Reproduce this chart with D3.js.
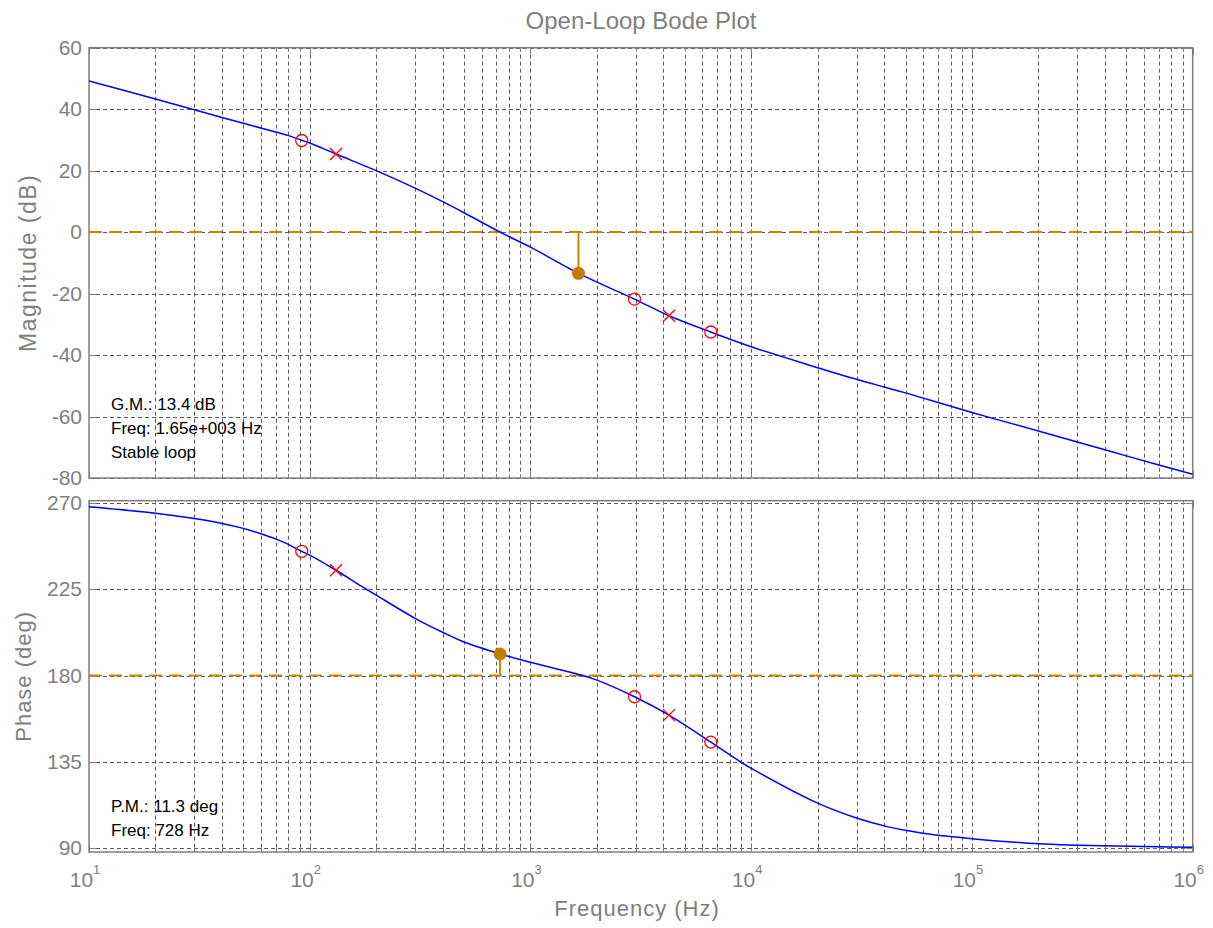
<!DOCTYPE html>
<html><head><meta charset="utf-8">
<script src="https://cdn.jsdelivr.net/npm/d3@7"></script>
<style>body{margin:0;background:#fff} svg{display:block}</style>
</head><body>
<svg id="c" width="1213" height="928"></svg>
<script>
// ---- data ----
const magFreq  = [10, 20, 30, 40, 50, 60, 70, 80, 92, 100, 131.5, 200, 300, 400, 500, 728, 1000, 1650, 2960, 4240, 6560, 10000, 20000, 30000, 40000, 50000, 100000, 200000, 300000, 400000, 500000, 1000000];
const magDb    = [49.2, 43.3, 39.8, 37.3, 35.4, 33.9, 32.6, 31.4, 29.9, 29.0, 25.4, 20.0, 14.3, 9.9, 6.3, 0.0, -4.9, -13.4, -21.8, -27.2, -32.5, -37.3, -44.1, -47.9, -50.4, -52.3, -58.7, -64.7, -68.3, -70.8, -72.8, -78.8];
const phaseFreq = [10, 20, 30, 40, 50, 60, 70, 80, 92, 100, 131.5, 172, 200, 300, 400, 500, 728, 1000, 1410, 1730, 2000, 2960, 4240, 6560, 8900, 10000, 20000, 30000, 40000, 50000, 60000, 80000, 100000, 200000, 300000, 700000, 1000000];
const phaseDeg  = [268.2, 264.8, 262.0, 259.5, 256.9, 254.1, 251.4, 248.5, 244.9, 242.9, 235.0, 226.6, 222.0, 209.9, 202.6, 197.5, 191.3, 186.9, 182.6, 180.0, 177.6, 168.9, 159.3, 145.2, 135.0, 131.5, 113.3, 105.5, 101.4, 99.1, 97.6, 95.8, 94.7, 92.0, 91.3, 90.5, 90.3];
const zeroFreq  = [92, 2960, 6560];
const zeroMag   = [29.8, -21.8, -32.5];
const zeroPhase = [244.9, 168.9, 145.2];
const poleFreq  = [131.5, 4240];
const poleMag   = [25.4, -27.2];
const polePhase = [235.0, 159.3];
const gmFreq = 1650, gmDb = -13.4;
const pmFreq = 728, pmDeg = 191.3;
const magTicks   = [-80, -60, -40, -20, 0, 20, 40, 60];
const phaseTicks = [90, 135, 180, 225, 270];
const decadeTicks = [10, 100, 1000, 10000, 100000, 1000000];
const decadeExp   = ["1", "2", "3", "4", "5", "6"];
const minorMult   = [2, 3, 4, 5, 6, 7, 8, 9];
const gmText = ["G.M.: 13.4 dB", "Freq: 1.65e+003 Hz", "Stable loop"];
const pmText = ["P.M.: 11.3 deg", "Freq: 728 Hz"];
const titleText = "Open-Loop Bode Plot";

// ---- layout ----
const L = 89, R = 1192.7;
const top1 = 47.7, bot1 = 478;
const top2 = 500.7, bot2 = 852;
const FONT = "'Liberation Sans', Arial, sans-serif";
const GRAY = "#7f7f7f";
const ORANGE = "#cc8500";

const svg = d3.select("#c");
const x = d3.scaleLog().domain([10, 1e6]).range([L, R]);
const yMag = d3.scaleLinear().domain([-80, 60]).range([bot1, top1]);
const yPh = d3.scaleLinear().domain([90, 270]).range([847.7, 503.3]);

const minorTicks = [];
decadeTicks.slice(0, -1).forEach(d => minorMult.forEach(m => minorTicks.push(d * m)));

function panel(id, y, yTicks, yt, yb) {
  const g = svg.append("g");
  g.append("clipPath").attr("id", id).append("rect")
    .attr("x", L).attr("y", yt).attr("width", R - L).attr("height", yb - yt);
  const grid = g.append("g").attr("stroke", "#5a5a5a").attr("stroke-width", 1)
    .attr("stroke-dasharray", "4,3").attr("fill", "none");
  decadeTicks.concat(minorTicks).forEach(f => {
    const xx = Math.round(x(f)) + 0.5;
    if (xx > L + 2 && xx < R - 2)
      grid.append("line").attr("x1", xx).attr("x2", xx).attr("y1", yt).attr("y2", yb);
  });
  yTicks.forEach(v => {
    const yy = Math.round(y(v)) + 0.5;
    grid.append("line").attr("x1", L).attr("x2", R).attr("y1", yy).attr("y2", yy);
  });
  const tk = g.append("g").attr("stroke", GRAY).attr("stroke-width", 1);
  decadeTicks.forEach(f => {
    const xx = Math.round(x(f)) + 0.5;
    tk.append("line").attr("x1", xx).attr("x2", xx).attr("y1", yb).attr("y2", yb - 7);
    tk.append("line").attr("x1", xx).attr("x2", xx).attr("y1", yt).attr("y2", yt + 7);
  });
  minorTicks.forEach(f => {
    const xx = Math.round(x(f)) + 0.5;
    tk.append("line").attr("x1", xx).attr("x2", xx).attr("y1", yb).attr("y2", yb - 4);
    tk.append("line").attr("x1", xx).attr("x2", xx).attr("y1", yt).attr("y2", yt + 4);
  });
  yTicks.forEach(v => {
    const yy = Math.round(y(v)) + 0.5;
    tk.append("line").attr("x1", L).attr("x2", L + 7).attr("y1", yy).attr("y2", yy);
    tk.append("line").attr("x1", R).attr("x2", R - 7).attr("y1", yy).attr("y2", yy);
  });
  g.append("g").selectAll("text").data(yTicks).join("text")
    .attr("x", 82).attr("y", d => y(d) + 7)
    .attr("text-anchor", "end").attr("font-family", FONT).attr("font-size", 21)
    .attr("fill", GRAY).text(d => d);
  g.append("rect").attr("x", L).attr("y", yt).attr("width", R - L).attr("height", yb - yt)
    .attr("fill", "none").attr("stroke", GRAY).attr("stroke-width", 1.5);
  return g;
}

const g1 = panel("clip1", yMag, magTicks, top1, bot1);
const g2 = panel("clip2", yPh, phaseTicks, top2, bot2);

function markers(g, y, fz, vz, fp, vp) {
  g.append("g").selectAll("circle").data(fz.map((f, i) => [f, vz[i]])).join("circle")
    .attr("cx", d => x(d[0])).attr("cy", d => y(d[1])).attr("r", 6)
    .attr("fill", "none").attr("stroke", "#ff0000").attr("stroke-width", 1.3);
  const s = 6;
  const xs = g.append("g").attr("stroke", "#ff0000").attr("stroke-width", 1.3);
  fp.forEach((f, i) => {
    const cx = x(f), cy = y(vp[i]);
    xs.append("line").attr("x1", cx - s).attr("x2", cx + s).attr("y1", cy - s).attr("y2", cy + s);
    xs.append("line").attr("x1", cx - s).attr("x2", cx + s).attr("y1", cy + s).attr("y2", cy - s);
  });
}

const curve = d3.curveCatmullRom.alpha(0.5);

// ---- magnitude panel ----
g1.append("line").attr("x1", L).attr("x2", R).attr("y1", yMag(0)).attr("y2", yMag(0))
  .attr("stroke", ORANGE).attr("stroke-width", 2).attr("stroke-dasharray", "13,7");
const lineMag = d3.line().x(d => x(d[0])).y(d => yMag(d[1])).curve(curve);
g1.append("path").attr("clip-path", "url(#clip1)")
  .attr("d", lineMag(magFreq.map((f, i) => [f, magDb[i]])))
  .attr("fill", "none").attr("stroke", "#0000ff").attr("stroke-width", 1.5);
g1.append("line").attr("x1", x(gmFreq)).attr("x2", x(gmFreq)).attr("y1", yMag(0)).attr("y2", yMag(gmDb))
  .attr("stroke", ORANGE).attr("stroke-width", 2);
g1.append("circle").attr("cx", x(gmFreq)).attr("cy", yMag(gmDb)).attr("r", 6.5).attr("fill", "#c27c00");
markers(g1, yMag, zeroFreq, zeroMag, poleFreq, poleMag);
g1.append("g").selectAll("text").data(gmText).join("text")
  .attr("x", 111).attr("y", (d, i) => 409.5 + i * 24)
  .attr("font-family", FONT).attr("font-size", 17).attr("fill", "#000").text(d => d);

// ---- phase panel ----
g2.append("line").attr("x1", L).attr("x2", R).attr("y1", yPh(180)).attr("y2", yPh(180))
  .attr("stroke", ORANGE).attr("stroke-width", 2).attr("stroke-dasharray", "13,7");
const linePh = d3.line().x(d => x(d[0])).y(d => yPh(d[1])).curve(curve);
g2.append("path").attr("clip-path", "url(#clip2)")
  .attr("d", linePh(phaseFreq.map((f, i) => [f, phaseDeg[i]])))
  .attr("fill", "none").attr("stroke", "#0000ff").attr("stroke-width", 1.5);
g2.append("line").attr("x1", x(pmFreq)).attr("x2", x(pmFreq)).attr("y1", yPh(180)).attr("y2", yPh(pmDeg))
  .attr("stroke", ORANGE).attr("stroke-width", 2);
g2.append("circle").attr("cx", x(pmFreq)).attr("cy", yPh(pmDeg)).attr("r", 6.5).attr("fill", "#c27c00");
markers(g2, yPh, zeroFreq, zeroPhase, poleFreq, polePhase);
g2.append("g").selectAll("text").data(pmText).join("text")
  .attr("x", 111).attr("y", (d, i) => 812 + i * 24)
  .attr("font-family", FONT).attr("font-size", 17).attr("fill", "#000").text(d => d);

// ---- x tick labels (bottom panel) ----
const xl = svg.append("g").attr("font-family", FONT).attr("fill", GRAY);
decadeTicks.forEach((f, i) => {
  const t = xl.append("text").attr("x", x(f) - 4).attr("y", 887).attr("text-anchor", "middle")
    .attr("font-size", 21);
  t.append("tspan").text("10");
  t.append("tspan").attr("font-size", 13).attr("dy", -13).text(decadeExp[i]);
});

// ---- titles ----
svg.append("text").attr("x", 641).attr("y", 29).attr("text-anchor", "middle")
  .attr("font-family", FONT).attr("font-size", 24).attr("fill", GRAY).text(titleText);
svg.append("text").attr("x", 637).attr("y", 916).attr("text-anchor", "middle")
  .attr("font-family", FONT).attr("font-size", 22).attr("letter-spacing", 1).attr("fill", GRAY).text("Frequency (Hz)");
svg.append("text").attr("transform", `translate(36,${(top1 + bot1) / 2}) rotate(-90)`)
  .attr("text-anchor", "middle").attr("font-family", FONT).attr("font-size", 23).attr("letter-spacing", 1.5)
  .attr("fill", GRAY).text("Magnitude (dB)");
svg.append("text").attr("transform", `translate(31,${(top2 + bot2) / 2}) rotate(-90)`)
  .attr("text-anchor", "middle").attr("font-family", FONT).attr("font-size", 22).attr("letter-spacing", 1)
  .attr("fill", GRAY).text("Phase (deg)");
</script>
</body></html>
